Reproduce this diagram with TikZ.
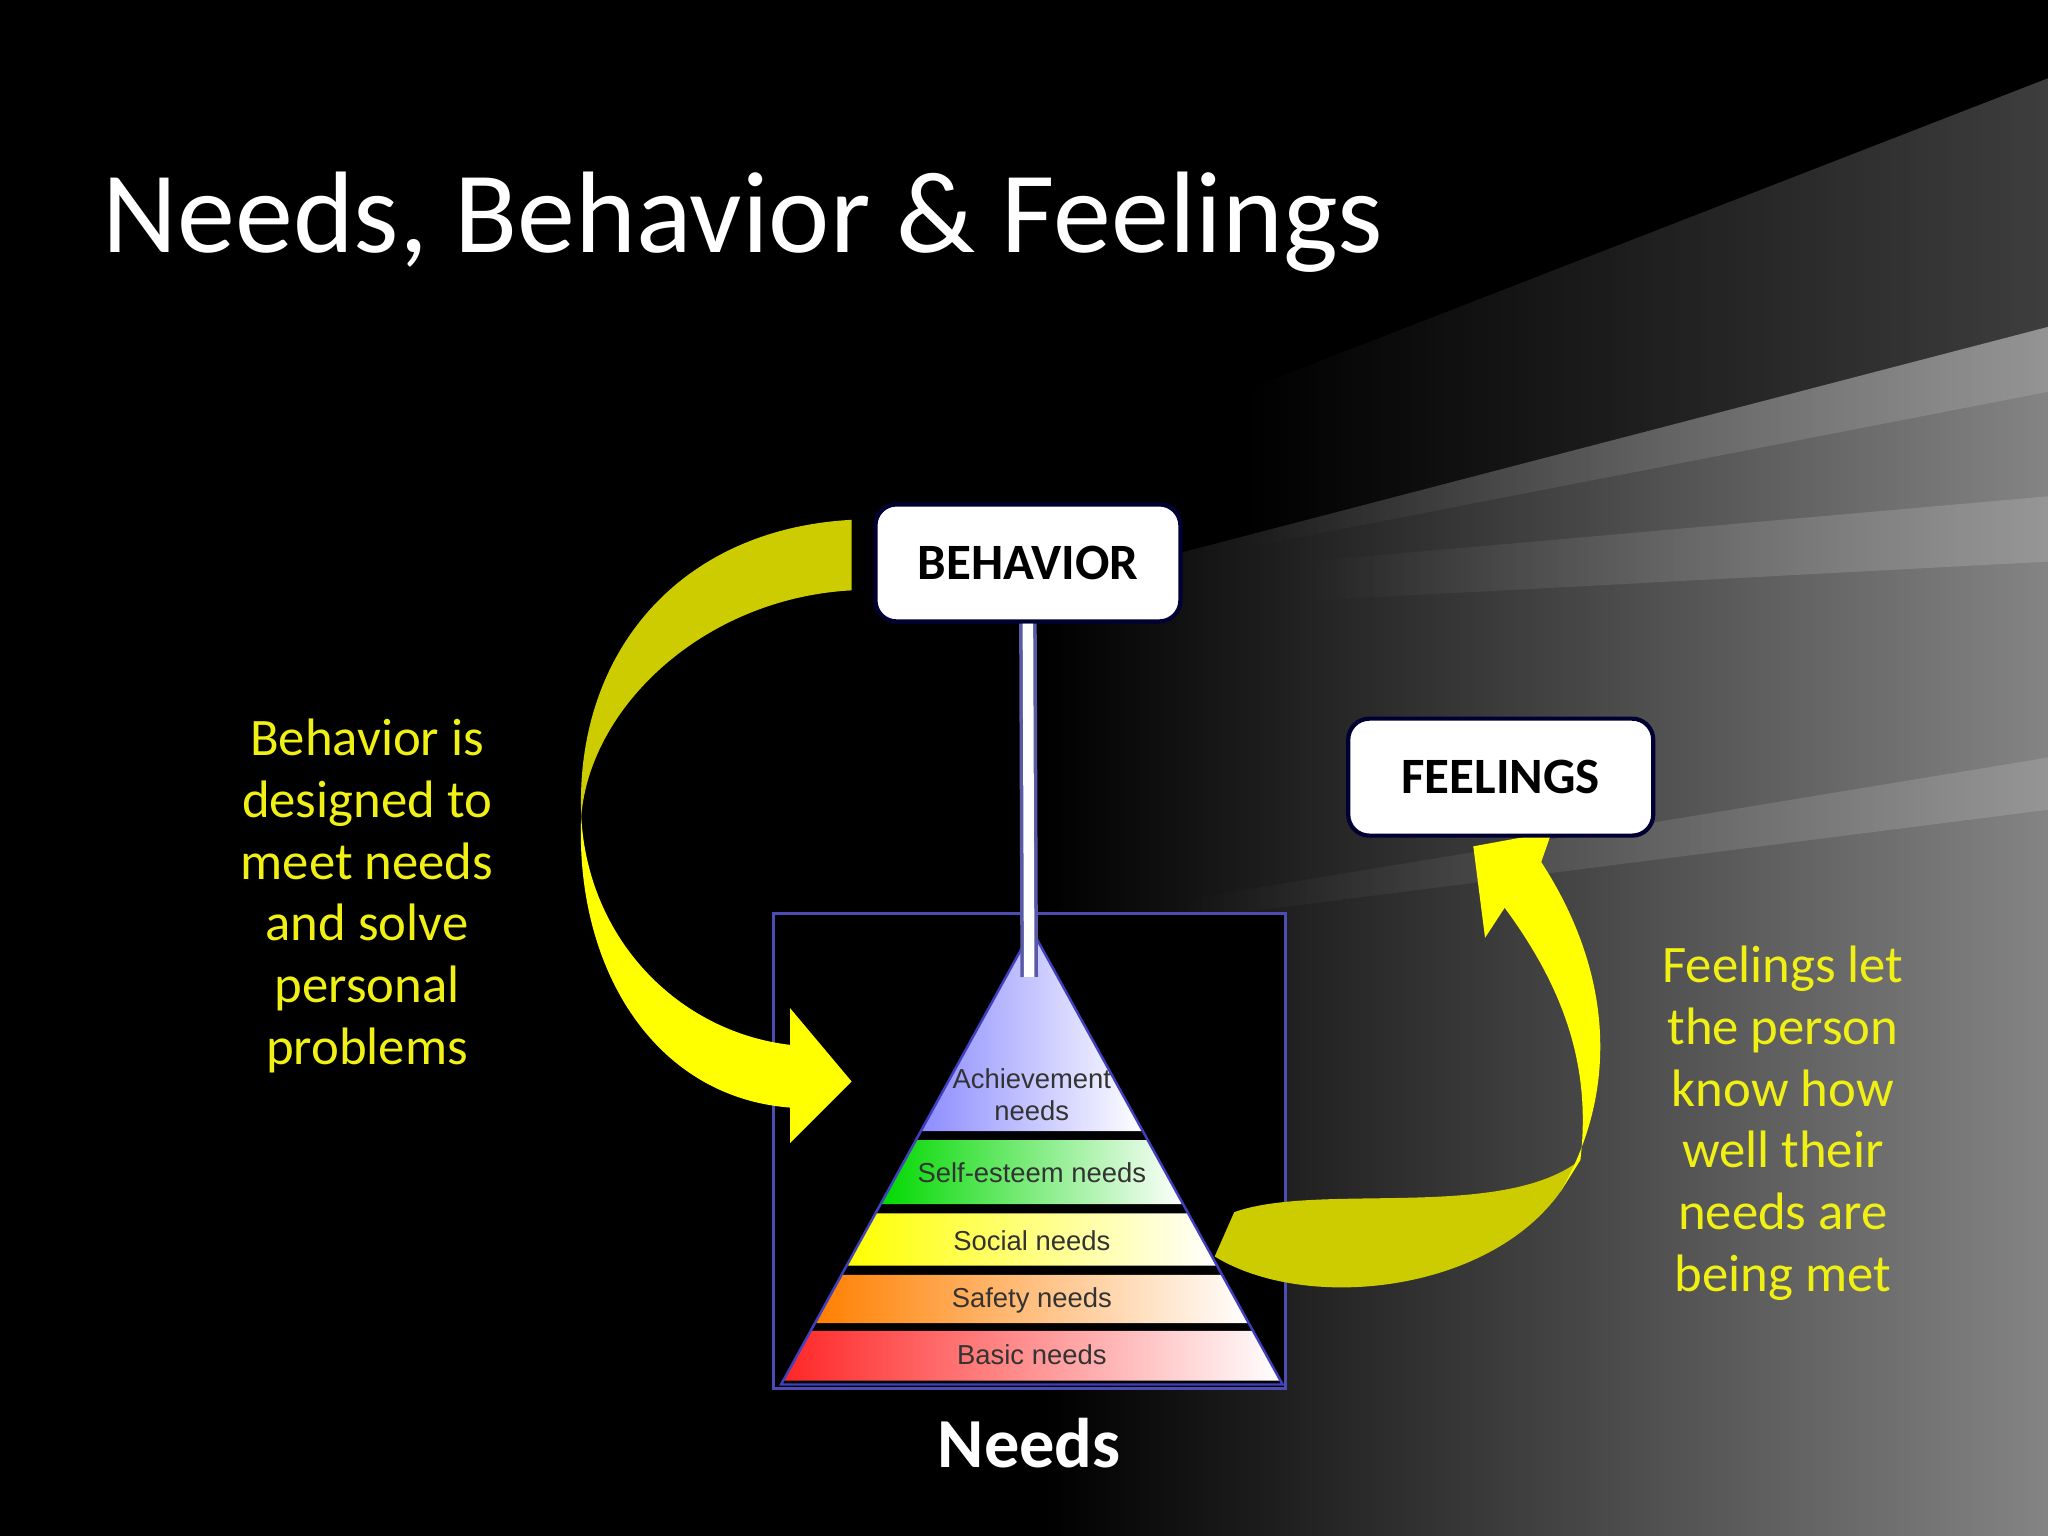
\documentclass[tikz,border=0pt]{standalone}
\usepackage{fontspec}
\setmainfont{Carlito}
\newfontfamily\arialf{Liberation Sans}
\usetikzlibrary{fadings}
\definecolor{yel}{RGB}{255,255,0}
\definecolor{olive}{RGB}{204,204,0}
\definecolor{txtyel}{RGB}{240,240,20}
\tikzset{
  labbox/.style={draw=black!80!blue, line width=1.2pt, fill=white, rounded corners=6pt, minimum width=3.05cm, minimum height=1.17cm, font=\fontsize{14.5}{18}\selectfont\bfseries, text=black},
  side/.style={text=txtyel, align=center, font=\fontsize{15}{17.6}\selectfont},
  plab/.style={font=\arialf\fontsize{7.8}{9}\selectfont, text=black!80, align=center}
}
\begin{document}
\begin{tikzpicture}[x=0.013061cm,y=-0.013061cm]
\useasboundingbox (0,0) rectangle (1568,1176);
\fill[black] (0,0) rectangle (1568,1176);
% grey streak background
\fill[gray!70, path fading=west, opacity=0.8] (800,450) -- (1568,250) -- (1568,1176) -- (800,1176) -- cycle;
\fill[gray!60, path fading=west, opacity=0.35] (950,300) -- (1568,60) -- (1568,300) -- (950,420) -- cycle;
\fill[gray!60, path fading=west, opacity=0.4] (1000,430) -- (1568,380) -- (1568,430) -- (1000,460) -- cycle;
\fill[gray!50, path fading=west, opacity=0.3] (900,690) -- (1568,580) -- (1568,620) -- (900,705) -- cycle;
% title
\node[anchor=base west, text=white, font=\fontsize{33}{38}\selectfont, inner sep=0] (title) at (78,193) {Needs, Behavior \& Feelings};
% pyramid box
\node[draw=gray!60!blue, line width=0.8pt, fill=black, minimum width=5.12cm, minimum height=4.75cm, inner sep=0] (pbox) at (788,881) {};
% bands
\def\lx#1{790-0.5517*(#1-712)}
\def\rx#1{790+0.5517*(#1-712)}
\foreach \ya/\yb/\c in {712/866/blue!45!white, 873/922/green!85!black, 929/969/yellow, 976/1013/orange, 1019/1057/red!85!white}{
  \shade[left color=\c, right color=white] ({\lx{\ya}},\ya) -- ({\rx{\ya}},\ya) -- ({\rx{\yb}},\yb) -- ({\lx{\yb}},\yb) -- cycle;
}
\draw[gray!50!blue, line width=0.7pt] (790,712) -- (598,1060) -- (982,1060) -- cycle;
\node[plab] (pa) at (790,838) {Achievement\\needs};
\node[plab] (pb) at (790,898) {Self-esteem needs};
\node[plab] (pc) at (790,950) {Social needs};
\node[plab] (pd) at (790,996) {Safety needs};
\node[plab] (pe) at (790,1037) {Basic needs};
\node[text=white, font=\fontsize{20}{24}\selectfont\bfseries] (needs) at (788,1105) {Needs};
% left arrow
\fill[olive] (652,398) .. controls (520,405) and (440,500) .. (445,625) .. controls (452,540) and (540,458) .. (652,452) -- cycle;
\fill[yel] (445,625) .. controls (450,720) and (520,790) .. (605,800) -- (605,772) -- (652,828) -- (605,875) -- (605,848) .. controls (500,840) and (440,740) .. (445,625) -- cycle;
% right arrow
\fill[olive] (930,962) .. controls (1000,1005) and (1140,990) .. (1195,912) -- (1210,888) .. controls (1150,935) and (1010,905) .. (945,928) -- cycle;
\fill[yel] (1195,912) .. controls (1242,830) and (1232,740) .. (1180,660) -- (1188,637) -- (1128,648) -- (1137,718) -- (1152,695) .. controls (1200,760) and (1218,820) .. (1210,888) -- cycle;
% boxes and stem
\node[labbox] (beh) at (787,431) {BEHAVIOR};
\node[labbox] (feel) at (1149,595) {FEELINGS};
\coordinate (apex) at (788,748);
\draw[gray!70!blue, line width=5pt] (beh.south) -- (apex);
\draw[white, line width=3pt] (beh.south) -- (apex);
% texts
\node[side] (lt) at (281,686) {Behavior is\\designed to\\meet needs\\and solve\\personal\\problems};
\node[side] (rt) at (1365,860) {Feelings let\\the person\\know how\\well their\\needs are\\being met};
\end{tikzpicture}
\end{document}
